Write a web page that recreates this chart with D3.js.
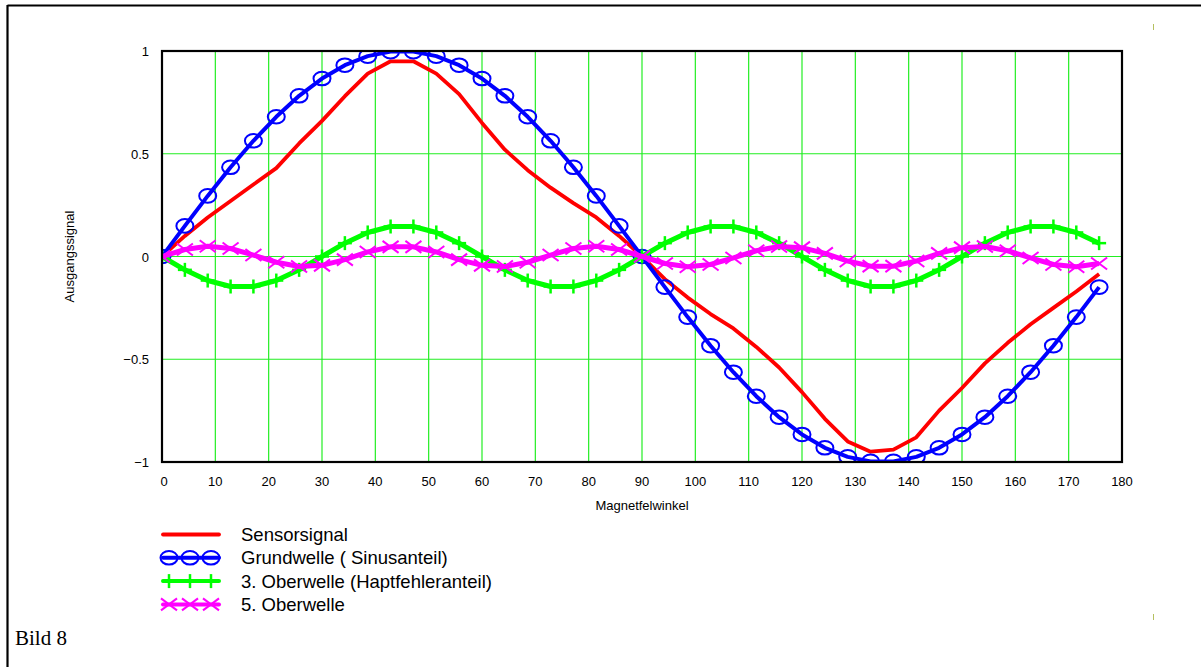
<!DOCTYPE html>
<html>
<head>
<meta charset="utf-8">
<script src="https://cdn.jsdelivr.net/npm/d3@7"></script>
<style>
  body { margin: 0; background: #fff; }
  svg text { font-family: Arial, "Liberation Sans", sans-serif; fill: #000; }
</style>
</head>
<body>
<div id="Container"></div>
<script>
// Winkel (Grad) der Stuetzpunkte
var winkel = [0, 4.29, 8.57, 12.86, 17.14, 21.43, 25.71, 30, 34.29, 38.57, 42.86, 47.14, 51.43, 55.71,
    60, 64.29, 68.57, 72.86, 77.14, 81.43, 85.71, 90, 94.29, 98.57, 102.86, 107.14, 111.43, 115.71,
    120, 124.29, 128.57, 132.86, 137.14, 141.43, 145.71, 150, 154.29, 158.57, 162.86, 167.14, 171.43, 175.71];

var sensor = [0, 0.10, 0.19, 0.27, 0.35, 0.43, 0.55, 0.66, 0.78, 0.89, 0.95, 0.95, 0.89, 0.79,
    0.65, 0.52, 0.42, 0.335, 0.26, 0.19, 0.10, 0, -0.11, -0.20, -0.28, -0.35, -0.44, -0.54,
    -0.66, -0.79, -0.90, -0.95, -0.94, -0.88, -0.75, -0.64, -0.52, -0.42, -0.33, -0.25, -0.17, -0.085];

var grund = [0, 0.149, 0.295, 0.434, 0.563, 0.680, 0.782, 0.866, 0.931, 0.975, 0.997, 0.997, 0.975, 0.931,
    0.866, 0.782, 0.680, 0.563, 0.434, 0.295, 0.149, 0, -0.149, -0.295, -0.434, -0.563, -0.680, -0.782,
    -0.866, -0.931, -0.975, -0.997, -0.997, -0.975, -0.931, -0.866, -0.782, -0.680, -0.563, -0.434, -0.295, -0.149];

var ober3 = [0, -0.065, -0.117, -0.146, -0.146, -0.117, -0.065, 0, 0.065, 0.117, 0.146, 0.146, 0.117, 0.065,
    0, -0.065, -0.117, -0.146, -0.146, -0.117, -0.065, 0, 0.065, 0.117, 0.146, 0.146, 0.117, 0.065,
    0, -0.065, -0.117, -0.146, -0.146, -0.117, -0.065, 0, 0.065, 0.117, 0.146, 0.146, 0.117, 0.065];

var ober5 = [0, 0.034, 0.050, 0.039, 0.007, -0.028, -0.049, -0.043, -0.015, 0.022, 0.047, 0.047, 0.022, -0.015,
    -0.043, -0.049, -0.028, 0.007, 0.039, 0.050, 0.034, 0, -0.034, -0.050, -0.039, -0.007, 0.028, 0.049,
    0.043, 0.015, -0.022, -0.047, -0.047, -0.022, 0.015, 0.043, 0.049, 0.028, -0.007, -0.039, -0.050, -0.034];

var xTicks = [0, 10, 20, 30, 40, 50, 60, 70, 80, 90, 100, 110, 120, 130, 140, 150, 160, 170, 180];
var yTicks = [-1, -0.5, 0, 0.5, 1];
var yLabels = ["\u22121", "\u22120.5", "0", "0.5", "1"];

var legende = ["Sensorsignal", "Grundwelle ( Sinusanteil)", "3. Oberwelle (Haptfehleranteil)", "5. Oberwelle"];

var margin = { top: 51, right: 79, bottom: 205, left: 162 }
    W = 1201
    H = 667
    w = W - margin.left - margin.right
    h = H - margin.top - margin.bottom
    canvas = d3.select("#Container").append('svg')
        .attr('width', W)
        .attr('height', H)
    svg = canvas.append('g')
        .attr('transform', 'translate(' + margin.left + ',' + margin.top + ')')

var x = d3.scaleLinear().domain([0, 180]).range([0, w]);
var y = d3.scaleLinear().domain([-1, 1]).range([h, 0]);

// aeusserer Rahmen
canvas.append("line")
    .attr('x1', 7.5).attr('y1', 5.5).attr('x2', W).attr('y2', 5.5)
    .attr('stroke', 'black').attr('stroke-width', 2.2);
canvas.append("line")
    .attr('x1', 7.5).attr('y1', 5).attr('x2', 7.5).attr('y2', H)
    .attr('stroke', 'black').attr('stroke-width', 2.2);

// kleine Marken rechts
canvas.append("line")
    .attr('x1', 1153.5).attr('y1', 24).attr('x2', 1153.5).attr('y2', 30)
    .attr('stroke', '#b5c060').attr('stroke-width', 1);
canvas.append("line")
    .attr('x1', 1153.5).attr('y1', 614).attr('x2', 1153.5).attr('y2', 620)
    .attr('stroke', '#b5c060').attr('stroke-width', 1);

canvas.append("text")
    .text("Bild 8")
    .attr("x", 15)
    .attr("y", 645)
    .style("font-family", "'Liberation Serif', 'Times New Roman', serif")
    .attr("font-size", 21);

// Gitter
svg.selectAll("vgrid")
    .data(xTicks.slice(1, -1))
    .enter()
    .append("line")
        .attr('x1', function(d) { return x(d); })
        .attr('x2', function(d) { return x(d); })
        .attr('y1', 0)
        .attr('y2', h)
        .attr('stroke', '#22ee22')
        .attr('stroke-width', 1.2);

svg.selectAll("hgrid")
    .data(yTicks.slice(1, -1))
    .enter()
    .append("line")
        .attr('x1', 0)
        .attr('x2', w)
        .attr('y1', function(d) { return y(d); })
        .attr('y2', function(d) { return y(d); })
        .attr('stroke', '#22ee22')
        .attr('stroke-width', 1.2);

// Achsenbeschriftung
svg.selectAll("xlab")
    .data(xTicks)
    .enter()
    .append("text")
        .attr("x", function(d) { return x(d) + (d == 0 ? 2 : 0); })
        .attr("y", h + 24)
        .attr("font-size", 13)
        .style("text-anchor", "middle")
        .text(function(d) { return d; });

svg.selectAll("ylab")
    .data(yTicks)
    .enter()
    .append("text")
        .attr("x", -13)
        .attr("y", function(d) { return y(d) + 5; })
        .attr("font-size", 13)
        .style("text-anchor", "end")
        .text(function(d, i) { return yLabels[i]; });

svg.append("text")
    .text("Magnetfelwinkel")
    .attr("x", w / 2)
    .attr("y", h + 48)
    .attr("font-size", 13)
    .style("text-anchor", "middle");

svg.append("text")
    .text("Ausgangssignal")
    .attr("transform", "translate(-88," + (h / 2) + ")rotate(-90)")
    .attr("font-size", 13)
    .style("text-anchor", "middle");

// Kurven
svg.append("clipPath").attr("id", "clip")
    .append("rect").attr("width", w).attr("height", h);

var plot = svg.append("g").attr("clip-path", "url(#clip)");

var linie = function(werte) {
    return d3.line()
        .x(function(d, i) { return x(winkel[i]); })
        .y(function(d) { return y(d); })(werte);
};

function plus(g, cx, cy, farbe) {
    g.append("line").attr('x1', cx).attr('x2', cx).attr('y1', cy - 7).attr('y2', cy + 7)
        .attr('stroke', farbe).attr('stroke-width', 2.5);
    g.append("line").attr('x1', cx - 7).attr('x2', cx + 7).attr('y1', cy).attr('y2', cy)
        .attr('stroke', farbe).attr('stroke-width', 2.5);
}
function kreuz(g, cx, cy, farbe) {
    g.append("line").attr('x1', cx - 8).attr('x2', cx + 8).attr('y1', cy - 6).attr('y2', cy + 6)
        .attr('stroke', farbe).attr('stroke-width', 2);
    g.append("line").attr('x1', cx - 8).attr('x2', cx + 8).attr('y1', cy + 6).attr('y2', cy - 6)
        .attr('stroke', farbe).attr('stroke-width', 2);
}
function kreis(g, cx, cy, farbe) {
    g.append("ellipse").attr('cx', cx).attr('cy', cy).attr('rx', 8.5).attr('ry', 6.8)
        .attr('fill', 'none').attr('stroke', farbe).attr('stroke-width', 2);
}

plot.append("path")
    .attr("d", linie(sensor))
    .attr("fill", "none")
    .attr("stroke", "#ff0000")
    .attr("stroke-width", 3.8)
    .attr("stroke-linejoin", "round");

plot.append("path")
    .attr("d", linie(grund))
    .attr("fill", "none")
    .attr("stroke", "#0000ff")
    .attr("stroke-width", 4)
    .attr("stroke-linejoin", "round");
grund.forEach(function(d, i) { kreis(plot, x(winkel[i]), y(d), "#0000ff"); });

plot.append("path")
    .attr("d", linie(ober3))
    .attr("fill", "none")
    .attr("stroke", "#00ff00")
    .attr("stroke-width", 5)
    .attr("stroke-linejoin", "round");
ober3.forEach(function(d, i) { plus(plot, x(winkel[i]), y(d), "#00ff00"); });

plot.append("path")
    .attr("d", linie(ober5))
    .attr("fill", "none")
    .attr("stroke", "#ff00ff")
    .attr("stroke-width", 5)
    .attr("stroke-linejoin", "round");
ober5.forEach(function(d, i) { kreuz(plot, x(winkel[i]), y(d), "#ff00ff"); });

// Plotrahmen
svg.append("rect")
    .attr("x", 0).attr("y", 0)
    .attr("width", w).attr("height", h)
    .attr("fill", "none")
    .attr("stroke", "black")
    .attr("stroke-width", 2.2);

// Legende
var farben = ["#ff0000", "#0000ff", "#00ff00", "#ff00ff"];
var leg = canvas.append("g");
legende.forEach(function(t, i) {
    var ly = 534.5 + i * 23.3;
    leg.append("line")
        .attr('x1', 163).attr('x2', 219).attr('y1', ly).attr('y2', ly)
        .attr('stroke', farben[i]).attr('stroke-width', i == 0 ? 3.8 : 4)
        .attr('stroke-linecap', 'round');
    [169, 190, 211].forEach(function(mx) {
        if (i == 1) kreis(leg, mx, ly, farben[i]);
        if (i == 2) plus(leg, mx, ly, farben[i]);
        if (i == 3) kreuz(leg, mx, ly, farben[i]);
    });
    leg.append("text")
        .attr("x", 241)
        .attr("y", ly + 6.5)
        .attr("font-size", 18.5)
        .text(t);
});
</script>
</body>
</html>
